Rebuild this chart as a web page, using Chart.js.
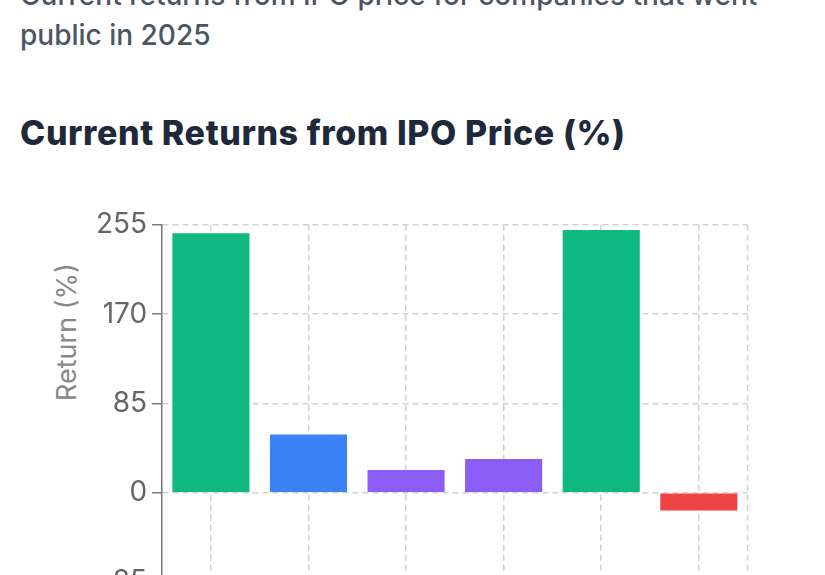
<!DOCTYPE html>
<html>
<head>
<meta charset="utf-8">
<script src="https://cdn.jsdelivr.net/npm/chart.js@4"></script>
<style>
    html, body { margin: 0; padding: 0; background: #fff; }
    #page {
        position: relative;
        width: 825px;
        height: 575px;
        overflow: hidden;
        font-family: Inter, "Liberation Sans", sans-serif;
    }
    #subtitle {
        position: absolute;
        left: 20px;
        top: -25px;
        margin: 0;
        font-size: 28px;
        line-height: 40px;
        font-weight: 500;
        color: #4b5563;
        white-space: nowrap;
    }
    #title {
        position: absolute;
        left: 20px;
        top: 113px;
        margin: 0;
        font-size: 34px;
        line-height: 40px;
        letter-spacing: 0.6px;
        font-weight: 800;
        color: #1e293b;
        white-space: nowrap;
    }
    #yTitle {
        position: absolute;
        left: 66px;
        top: 332px;
        transform: translate(-50%, -50%) rotate(-90deg);
        font-size: 27px;
        color: #888;
        white-space: nowrap;
    }
    #chartBox {
        position: absolute;
        left: 20px;
        top: 203px;
        width: 730px;
        height: 423px;
    }
</style>
</head>
<body>
<div id="page">
    <p id="subtitle">Current returns from IPO price for companies that went<br>public in 2025</p>
    <h2 id="title">Current Returns from IPO Price (%)</h2>
    <div id="yTitle">Return (%)</div>
    <div id="chartBox"><canvas id="returnsChart"></canvas></div>
</div>
<script>
// Data
const companies = ['CoreWeave', 'Figma', 'Klarna', 'Chime', 'Circle', 'StubHub'];
const returns = [247, 55.5, 21.5, 32, 250, -17];
const barColors = ['#10b981', '#3b82f6', '#8b5cf6', '#8b5cf6', '#10b981', '#ef4444'];
const yTicks = [-85, 0, 85, 170, 255];

// dashed line along the right edge of the plot
const rightEdge = {
    id: 'rightEdge',
    beforeDatasetsDraw(chart) {
        const { ctx, chartArea } = chart;
        ctx.save();
        ctx.strokeStyle = '#d1d1d1';
        ctx.lineWidth = 1.5;
        ctx.setLineDash([6, 4]);
        ctx.beginPath();
        ctx.moveTo(chartArea.right, chartArea.top);
        ctx.lineTo(chartArea.right, chartArea.bottom);
        ctx.stroke();
        ctx.restore();
    }
};

new Chart(document.getElementById('returnsChart'), {
    type: 'bar',
    data: {
        labels: companies,
        datasets: [{
            label: 'Return (%)',
            data: returns,
            backgroundColor: barColors,
            borderWidth: 0,
            barPercentage: 1,
            categoryPercentage: 0.79
        }]
    },
    options: {
        responsive: true,
        maintainAspectRatio: false,
        animation: false,
        layout: { padding: { top: 0, right: 0, left: 71 } },
        plugins: {
            legend: { display: false },
            tooltip: { enabled: false }
        },
        scales: {
            x: {
                grid: {
                    offset: false,
                    color: '#d1d1d1',
                    lineWidth: 1.5,
                    drawTicks: false
                },
                border: { display: true, color: '#777', width: 1.5, dash: [6, 4] },
                ticks: {
                    font: { family: 'Inter', size: 20 },
                    color: '#666',
                    padding: 10,
                    maxRotation: 0,
                    autoSkip: false
                }
            },
            y: {
                min: yTicks[0],
                max: yTicks[yTicks.length - 1],
                afterBuildTicks(scale) {
                    scale.ticks = yTicks.map(v => ({ value: v }));
                },
                grid: {
                    color: '#d1d1d1',
                    lineWidth: 1.5,
                    tickColor: '#777',
                    tickLength: 10,
                    tickWidth: 1.5
                },
                border: { display: true, color: '#777', width: 1.5, dash: [6, 4] },
                ticks: {
                    font: { family: 'Inter', size: 28 },
                    color: '#666',
                    padding: 5
                }
            }
        }
    },
    plugins: [rightEdge]
});
</script>
</body>
</html>
